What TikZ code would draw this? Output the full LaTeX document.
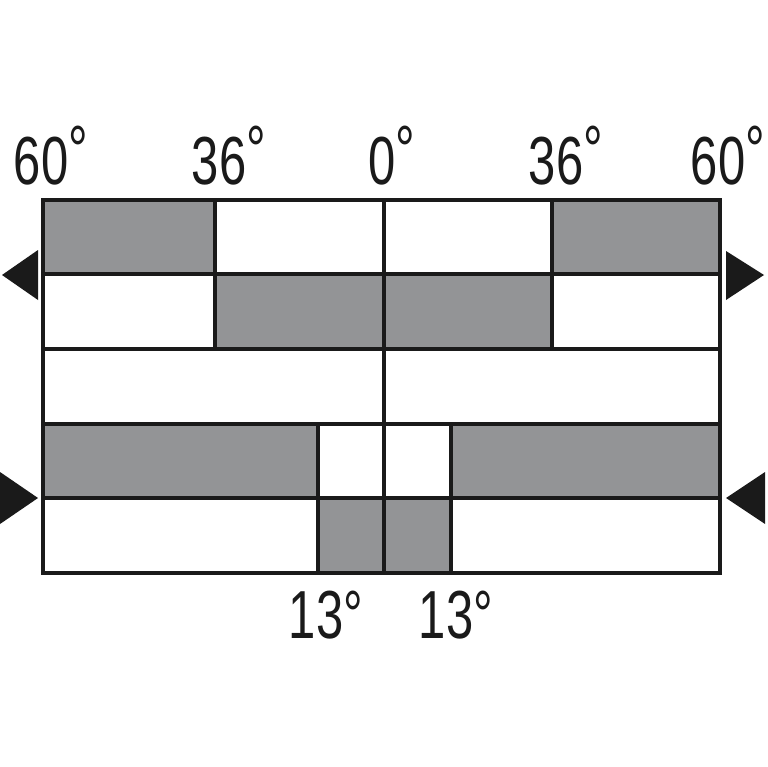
\documentclass[tikz,border=0pt]{standalone}
\usepackage{fontspec}
\setmainfont{Liberation Sans}
\definecolor{cellgray}{HTML}{939496}
\definecolor{ink}{HTML}{1A1A1A}
\newcommand{\dg}{\raisebox{11pt}{°}}
\begin{document}
\begin{tikzpicture}[x=1pt,y=-1pt,
  cell/.style={fill=cellgray,draw=none},
  grid/.style={draw=ink,line width=3.5pt},
  tri/.style={fill=ink,draw=none},
  lbl/.style={anchor=base,inner sep=0pt,text=ink,font=\fontsize{68}{68}\selectfont,xscale=0.72}]
\useasboundingbox (0,0) rectangle (767,767);
\fill[white] (0,0) rectangle (767,767);
% gray cells
\fill[cell] (43,200) rectangle (215,274);
\fill[cell] (552,200) rectangle (720,274);
\fill[cell] (215,274) rectangle (552,349);
\fill[cell] (43,424) rectangle (318,498);
\fill[cell] (451,424) rectangle (720,498);
\fill[cell] (318,498) rectangle (451,573);
% grid lines
\draw[grid] (43,200) rectangle (720,573);
\draw[grid] (43,274) -- (720,274);
\draw[grid] (43,349) -- (720,349);
\draw[grid] (43,424) -- (720,424);
\draw[grid] (43,498) -- (720,498);
\draw[grid] (215,200) -- (215,349);
\draw[grid] (552,200) -- (552,349);
\draw[grid] (384,200) -- (384,573);
\draw[grid] (318,424) -- (318,573);
\draw[grid] (451,424) -- (451,573);
% triangles
\fill[tri] (2,275) -- (38,250) -- (38,300) -- cycle;
\fill[tri] (764,275) -- (726,251) -- (726,300) -- cycle;
\fill[tri] (38,498) -- (0,472) -- (0,524) -- cycle;
\fill[tri] (726,498) -- (765,472) -- (765,524) -- cycle;
% labels
\node[lbl] (l60) at (51,185) {60\dg};
\node[lbl] (l36) at (229,185) {36\dg};
\node[lbl] (l0) at (392,185) {0\dg};
\node[lbl] (r36) at (566,185) {36\dg};
\node[lbl] (r60) at (728,185) {60\dg};
\node[lbl] (b13l) at (326,638) {13°};
\node[lbl] (b13r) at (456,638) {13°};
\end{tikzpicture}
\end{document}
